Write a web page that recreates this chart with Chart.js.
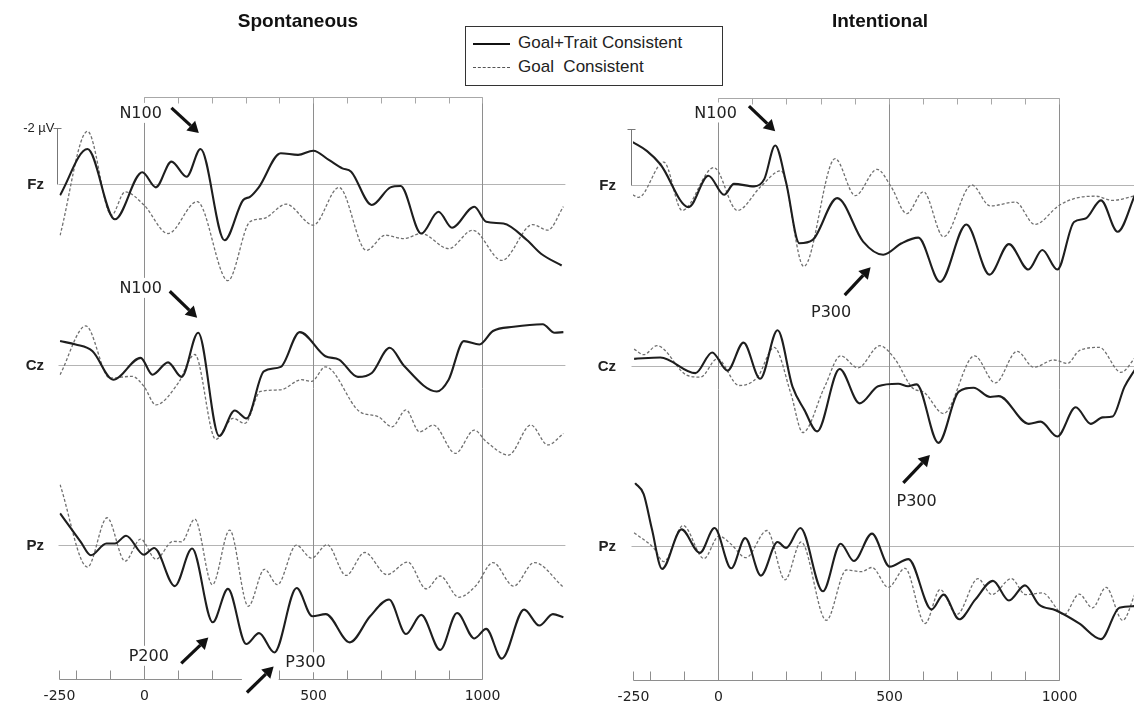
<!DOCTYPE html>
<html>
<head>
<meta charset="utf-8">
<script src="https://cdn.jsdelivr.net/npm/chart.js@4.4.0/dist/chart.umd.min.js"></script>
<style>
  body { margin: 0; background: #fff; width: 1134px; height: 703px; overflow: hidden; position: relative;
         font-family: "Liberation Sans", Arial, sans-serif; }
  canvas { position: absolute; top: 0; }
  #leftChart { left: 0; }
  #rightChart { left: 570px; }
  .title { position: absolute; top: 9px; font-weight: bold; font-size: 19px; line-height: 24px; color: #111;
           transform: translateX(-50%); white-space: nowrap; }
  #legend { position: absolute; left: 465px; top: 26px; width: 258px; height: 60px; box-sizing: border-box;
            border: 1.5px solid #333; background: #fff; font-size: 17px; color: #222; z-index: 2; }
  .row { position: absolute; left: 0; height: 20px; line-height: 20px; white-space: nowrap; }
  .row span.sample { position: absolute; left: 7px; top: 10px; width: 37px; }
  .row span.txt { position: absolute; left: 52px; top: 0; }
</style>
</head>
<body>
<canvas id="leftChart" width="580" height="703"></canvas>
<canvas id="rightChart" width="564" height="703"></canvas>
<div class="title" style="left:298px">Spontaneous</div>
<div class="title" style="left:880px">Intentional</div>
<div id="legend">
  <div class="row" style="top:6px"><span class="sample" style="border-top:2.5px solid #111"></span><span class="txt">Goal+Trait Consistent</span></div>
  <div class="row" style="top:30px"><span class="sample" style="border-top:1.5px dashed #555"></span><span class="txt">Goal&nbsp; Consistent</span></div>
</div>
<script>
// ERP waveforms, [time in ms, amplitude in µV] (negative plotted up)
// Spontaneous condition
const spFzGoalTrait = [[-248,0.40],[-167,-1.25],[-86,1.26],[-5,-0.42],[35,0.12],[81,-0.80],[126,-0.26],[167,-1.25],[238,2.01],[293,0.57],[313,0.46],[339,0.12],[404,-1.10],[455,-1.04],[500,-1.19],[546,-0.86],[586,-0.56],[612,-0.44],[673,0.75],[728,0.12],[758,0.07],[819,1.77],[870,0.99],[910,1.56],[976,0.81],[1011,1.35],[1062,1.41],[1132,2.01],[1173,2.49],[1234,2.91]];
const spFzGoal = [[-248,1.83],[-167,-1.88],[-96,1.11],[-56,0.28],[0,0.75],[71,1.77],[157,0.63],[248,3.45],[313,1.35],[354,1.23],[420,0.72],[500,1.47],[576,0.12],[657,2.37],[713,1.83],[768,1.95],[819,1.77],[900,2.31],[971,1.65],[1057,2.73],[1148,1.45],[1193,1.65],[1239,0.81]];
const spCzGoalTrait = [[-248,-0.84],[-202,-0.72],[-152,-0.48],[-91,0.54],[-10,-0.24],[25,0.36],[71,-0.08],[111,0.44],[160,-1.14],[222,2.55],[268,1.64],[303,1.92],[354,0.24],[404,0.08],[460,-1.16],[536,-0.30],[576,-0.18],[632,0.44],[673,0.30],[726,-0.60],[768,0.04],[865,0.96],[900,0.54],[945,-0.84],[991,-0.72],[1031,-1.20],[1092,-1.35],[1178,-1.44],[1213,-1.14],[1239,-1.16]];
const spCzGoal = [[-248,0.36],[-172,-1.38],[-101,0.48],[-35,0.42],[0,0.78],[35,1.44],[101,0.66],[150,-0.36],[212,2.67],[263,1.92],[298,2.10],[344,0.96],[404,0.90],[465,0.54],[495,0.60],[536,0.08],[637,1.68],[692,1.86],[733,2.22],[774,1.62],[814,2.40],[855,2.16],[920,3.17],[976,2.34],[1011,2.75],[1077,3.23],[1143,2.16],[1193,2.87],[1239,2.46]];
const spPzGoalTrait = [[-248,-1.14],[-187,-0.12],[-157,0.36],[-111,-0.06],[-86,-0.06],[-53,-0.34],[0,0.34],[30,0.10],[91,1.46],[142,0.12],[203,2.75],[248,1.56],[302,3.53],[340,3.14],[385,3.83],[451,1.53],[497,2.54],[537,2.46],[608,3.47],[668,2.54],[724,1.94],[774,3.17],[819,2.49],[875,3.74],[925,2.42],[976,3.33],[1011,2.99],[1057,4.05],[1123,2.30],[1168,2.87],[1208,2.46],[1239,2.57]];
const spPzGoal = [[-248,-2.16],[-167,0.78],[-109,-0.98],[-56,0.57],[-10,-0.22],[35,0.50],[86,-0.14],[111,-0.12],[150,-0.93],[202,1.41],[253,-0.54],[308,2.18],[356,0.86],[394,1.41],[450,0.00],[495,0.46],[541,-0.02],[597,1.08],[652,0.26],[718,1.05],[779,0.60],[834,1.56],[875,1.10],[930,1.86],[981,1.44],[1031,0.62],[1092,1.46],[1153,0.62],[1239,1.50]];
// Intentional condition
const inFzGoalTrait = [[-251,-1.53],[-209,-1.21],[-170,-0.74],[-87,0.79],[-29,-0.33],[17,0.35],[46,-0.04],[105,0.05],[135,-0.21],[167,-1.41],[199,-0.09],[238,2.08],[277,1.96],[349,0.47],[425,2.02],[484,2.49],[538,2.08],[587,1.88],[651,3.46],[728,1.41],[796,3.20],[853,2.11],[910,3.02],[951,2.32],[995,3.02],[1044,1.32],[1078,1.20],[1123,0.55],[1172,1.67],[1224,0.32]];
const inFzGoal = [[-251,0.35],[-234,0.44],[-160,-0.82],[-106,0.91],[-13,-0.62],[56,0.91],[125,0.05],[184,-0.51],[251,2.91],[343,-0.94],[402,0.38],[466,-0.56],[508,0.08],[553,1.02],[602,0.24],[661,1.85],[744,0.00],[798,0.75],[872,0.61],[929,1.41],[1000,0.73],[1049,0.47],[1108,0.40],[1157,0.55],[1224,0.38]];
const inCzGoalTrait = [[-247,-0.24],[-170,-0.29],[-67,0.27],[-18,-0.47],[27,0.18],[74,-0.82],[123,0.47],[174,-1.26],[218,0.76],[253,1.59],[290,2.35],[356,0.12],[415,1.35],[469,0.74],[528,0.65],[557,0.74],[582,0.67],[646,2.76],[705,0.94],[749,0.79],[798,1.12],[823,1.09],[911,2.08],[946,2.00],[995,2.53],[1049,1.49],[1093,2.08],[1128,1.85],[1157,1.82],[1192,0.76],[1224,0.12]];
const inCzGoal = [[-247,-0.59],[-219,-0.39],[-180,-0.71],[-91,0.35],[-52,0.41],[-3,-0.24],[61,0.71],[115,0.41],[164,-0.65],[213,1.00],[248,2.39],[312,0.76],[359,-0.35],[410,0.08],[474,-0.71],[518,-0.24],[572,0.82],[602,0.94],[661,1.71],[752,-0.35],[813,0.62],[877,-0.51],[926,0.06],[985,-0.20],[1025,-0.08],[1059,-0.53],[1118,-0.65],[1182,0.24],[1224,-0.29]];
const inPzGoalTrait = [[-244,-2.25],[-219,-1.86],[-195,-0.62],[-165,0.81],[-108,-0.60],[-54,0.24],[-11,-0.65],[38,0.79],[79,-0.29],[125,1.05],[174,-0.15],[199,0.06],[241,-0.65],[307,1.61],[359,-0.09],[398,0.53],[451,-0.45],[503,0.73],[558,0.46],[626,2.26],[661,1.73],[707,2.61],[754,1.91],[806,1.24],[853,1.94],[900,1.40],[941,2.08],[990,2.29],[1059,2.76],[1123,3.32],[1177,2.20],[1224,2.14]];
const inPzGoal = [[-247,-0.48],[-190,0.06],[-160,0.55],[-103,-0.74],[-42,0.44],[2,-0.36],[36,-0.09],[81,0.41],[143,-0.56],[196,1.20],[243,-0.15],[317,2.65],[376,0.85],[420,0.91],[451,0.76],[499,1.47],[548,0.79],[607,2.76],[651,1.55],[700,2.44],[762,1.16],[803,1.73],[860,1.16],[902,1.73],[951,1.67],[1015,2.44],[1059,1.71],[1098,2.20],[1138,1.47],[1187,2.65],[1224,1.67]];

const CHANNELS = ['Fz', 'Cz', 'Pz'];
const CH_OFFSET = [0, 6.45, 12.9];      // vertical stacking of channels (µV units)
const MARK_LINES = [0, 500, 1000];
const TICK_LABELS = [-250, 0, 500, 1000];
const BOTTOM_TICKS = [-250, -200, -100, 0, 100, 200, 300, 400, 500, 600, 700, 800, 900, 1000];
const TOP_TICKS = [0, 100, 200, 300, 400, 500, 600, 700, 800, 900, 1000];
const AXIS_TOP = -3.1, AXIS_BOTTOM = 17.68;

// annotations: label text and arrows, in data coords [ms, plotted µV]
const spNotes = [
  { text: 'N100', at: [-10, -2.54] },
  { text: 'N100', at: [-10, 3.71] },
  { text: 'P200', at: [14, 16.85] },
  { text: 'P300', at: [477, 17.08] }
];
const spArrows = [
  { from: [81, -2.72], to: [162, -1.82] },
  { from: [76, 3.83], to: [157, 4.78] },
  { from: [110, 17.12], to: [190, 16.2] },
  { from: [304, 18.16], to: [383, 17.23], bg: true }
];
const inNotes = [
  { text: 'N100', at: [-8, -2.59] },
  { text: 'P300', at: [331, 4.54] },
  { text: 'P300', at: [582, 11.27] }
];
const inArrows = [
  { from: [90, -2.82], to: [167, -1.92] },
  { from: [371, 3.93], to: [447, 2.94] },
  { from: [543, 10.64], to: [621, 9.64] }
];

function toPoints(arr, off) {
  return arr.map(([ms, uv]) => ({ x: ms, y: uv + off }));
}

function buildDatasets(solids, dashes) {
  const ds = [];
  solids.forEach((s, i) => ds.push({
    data: toPoints(s, CH_OFFSET[i]), borderColor: '#1e1e1e', borderWidth: 2.1,
    pointRadius: 0, fill: false, cubicInterpolationMode: 'monotone'
  }));
  dashes.forEach((s, i) => ds.push({
    data: toPoints(s, CH_OFFSET[i]), borderColor: '#707070', borderWidth: 1.3, borderDash: [3, 2],
    pointRadius: 0, fill: false, cubicInterpolationMode: 'monotone'
  }));
  return ds;
}

function line(ctx, x1, y1, x2, y2) {
  ctx.beginPath(); ctx.moveTo(x1, y1); ctx.lineTo(x2, y2); ctx.stroke();
}

function drawArrow(ctx, x1, y1, x2, y2) {
  const ang = Math.atan2(y2 - y1, x2 - x1);
  const head = 11, half = 6.5;
  const bx = x2 - head * Math.cos(ang), by = y2 - head * Math.sin(ang);
  ctx.strokeStyle = '#111'; ctx.fillStyle = '#111'; ctx.lineWidth = 3.2;
  line(ctx, x1, y1, bx, by);
  ctx.beginPath();
  ctx.moveTo(x2, y2);
  ctx.lineTo(bx + half * Math.sin(ang), by - half * Math.cos(ang));
  ctx.lineTo(bx - half * Math.sin(ang), by + half * Math.cos(ang));
  ctx.closePath(); ctx.fill();
}

function decorPlugin(cfg) {
  return {
    id: 'erpDecor',
    beforeDatasetsDraw(chart) {
      const { ctx, chartArea: a } = chart;
      const X = v => Math.round(chart.scales.x.getPixelForValue(v)) + 0.5;
      const Y = v => Math.round(chart.scales.y.getPixelForValue(v)) + 0.5;
      ctx.save();
      ctx.lineWidth = 1;
      // channel baselines
      ctx.strokeStyle = '#b4b4b4';
      CH_OFFSET.forEach(o => line(ctx, X(-255), Y(o), a.right, Y(o)));
      // stimulus / time markers
      ctx.strokeStyle = '#8e8e8e';
      MARK_LINES.forEach(ms => line(ctx, X(ms), Y(AXIS_TOP), X(ms), Y(AXIS_BOTTOM)));
      // top time axis
      ctx.strokeStyle = '#a8a8a8';
      line(ctx, X(0), Y(AXIS_TOP), X(1000), Y(AXIS_TOP));
      TOP_TICKS.forEach(ms => line(ctx, X(ms), Y(AXIS_TOP), X(ms), Y(AXIS_TOP) + 6));
      // bottom time axis
      ctx.strokeStyle = '#8e8e8e';
      line(ctx, X(-250), Y(AXIS_BOTTOM), X(1000), Y(AXIS_BOTTOM));
      BOTTOM_TICKS.forEach(ms => line(ctx, X(ms), Y(AXIS_BOTTOM), X(ms), Y(AXIS_BOTTOM) - 9));
      ctx.fillStyle = '#222';
      ctx.font = '14px "DejaVu Sans"';
      ctx.textAlign = 'center'; ctx.textBaseline = 'middle';
      TICK_LABELS.forEach(ms => ctx.fillText(String(ms), X(ms), Y(AXIS_BOTTOM) + 17));
      // calibration bar (-2 µV)
      const cx = X(-256);
      ctx.strokeStyle = '#777';
      line(ctx, cx, Y(0), cx, Y(-2));
      line(ctx, cx - 4, Y(-2), cx + 4, Y(-2));
      if (cfg.calLabel) {
        ctx.fillStyle = '#222'; ctx.font = '13px "Liberation Sans"';
        ctx.textAlign = 'right';
        ctx.fillText('-2 µV', cx - 3, Y(-2));
      }
      // channel names
      ctx.font = 'bold 15px "Liberation Sans"';
      ctx.textAlign = 'right'; ctx.fillStyle = '#222';
      CHANNELS.forEach((c, i) => ctx.fillText(c, cfg.labelRight, Y(CH_OFFSET[i])));
      ctx.restore();
    },
    afterDatasetsDraw(chart) {
      const { ctx } = chart;
      const X = v => chart.scales.x.getPixelForValue(v);
      const Y = v => chart.scales.y.getPixelForValue(v);
      ctx.save();
      cfg.arrows.forEach(ar => {
        const x1 = X(ar.from[0]), y1 = Y(ar.from[1]), x2 = X(ar.to[0]), y2 = Y(ar.to[1]);
        if (ar.bg) {
          ctx.fillStyle = '#fff';
          ctx.fillRect(Math.min(x1, x2) - 5, Math.min(y1, y2) - 5, Math.abs(x2 - x1) + 10, Math.abs(y2 - y1) + 10);
        }
        drawArrow(ctx, x1, y1, x2, y2);
      });
      ctx.font = '16px "DejaVu Sans"';
      ctx.textAlign = 'center'; ctx.textBaseline = 'middle';
      cfg.notes.forEach(n => {
        const x = X(n.at[0]), y = Y(n.at[1]);
        const w = ctx.measureText(n.text).width;
        ctx.fillStyle = '#fff';
        ctx.fillRect(x - w / 2 - 3, y - 10, w + 6, 20);
        ctx.fillStyle = '#222';
        ctx.fillText(n.text, x, y + 1);
      });
      ctx.restore();
    }
  };
}

function makePanel(id, solids, dashes, xMax, padding, cfg) {
  return new Chart(document.getElementById(id), {
    type: 'line',
    data: { datasets: buildDatasets(solids, dashes) },
    options: {
      responsive: false,
      animation: false,
      devicePixelRatio: 1,
      layout: { padding: padding },
      plugins: { legend: { display: false }, tooltip: { enabled: false } },
      scales: {
        x: { type: 'linear', min: -250, max: xMax, display: false },
        y: { min: -3.5, max: 18.5, reverse: true, display: false }
      }
    },
    plugins: [decorPlugin(cfg)]
  });
}

makePanel('leftChart',
  [spFzGoalTrait, spCzGoalTrait, spPzGoalTrait],
  [spFzGoal, spCzGoal, spPzGoal],
  1245, { left: 59.4, right: 14.6, top: 86, bottom: 1 },
  { notes: spNotes, arrows: spArrows, calLabel: true, labelRight: 44 });

makePanel('rightChart',
  [inFzGoalTrait, inCzGoalTrait, inPzGoalTrait],
  [inFzGoal, inCzGoal, inPzGoal],
  1220, { left: 63.1, right: 0, top: 87, bottom: 0 },
  { notes: inNotes, arrows: inArrows, calLabel: false, labelRight: 46 });
</script>
</body>
</html>
